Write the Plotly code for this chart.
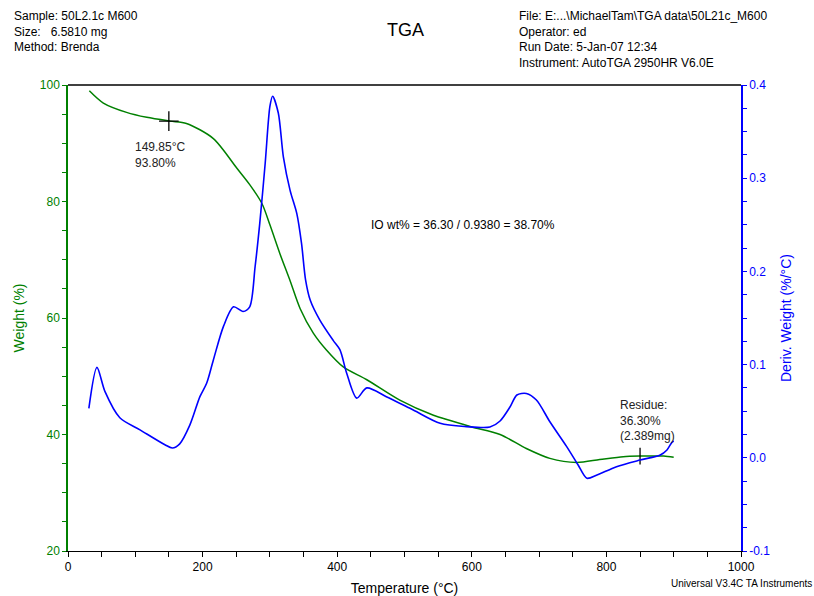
import plotly.graph_objects as go

# Weight curve (left axis)
w_temp = [31.7, 52.5, 87, 117, 151.6, 176, 216, 251, 270, 288, 300, 315, 330, 345, 364.5, 384, 409, 444, 493, 543, 568,
          600, 642, 681, 716, 756, 790, 825, 850, 885, 900]
w_val = [99.0, 96.9, 95.3, 94.45, 93.8, 93.4, 90.8, 85.7, 82.9, 79.7, 76.0, 71.0, 66.4, 61.6, 57.4, 54.5, 51.6, 49.4, 45.9, 43.3, 42.4,
         41.3, 40.0, 37.6, 35.9, 35.2, 35.7, 36.2, 36.3, 36.3, 36.1]

# Derivative weight curve (right axis)
d_temp = [31, 43, 55, 77, 107, 144, 155, 166, 181, 196, 206, 216, 231, 246, 260, 270, 278, 285, 293, 300, 304,
          312.5, 320, 330, 340, 347, 353, 360, 374, 394, 404, 414, 429, 444, 473, 513, 553, 592, 627, 642,
          657, 667, 681, 696, 716, 741, 758, 771, 786, 815, 850, 880, 890, 897, 900]
d_val = [0.053, 0.097, 0.071, 0.043, 0.030, 0.014, 0.0105, 0.015, 0.035, 0.0656, 0.080, 0.105, 0.141, 0.162, 0.157, 0.162,
         0.205, 0.252, 0.316, 0.377, 0.388, 0.370, 0.323, 0.287, 0.262, 0.230, 0.191, 0.169, 0.148, 0.126, 0.116, 0.091,
         0.064, 0.075, 0.0656, 0.0513, 0.037, 0.0335, 0.0330, 0.0395, 0.0548, 0.0674, 0.069, 0.062, 0.0387, 0.012,
         -0.0077, -0.022, -0.0185, -0.0095, -0.0024, 0.003, 0.0084, 0.0162, 0.018]

onset_point = (149.85, 93.80)
residue_point = (850, 36.30)

x_major = [0, 200, 400, 600, 800, 1000]
y_major = [20, 40, 60, 80, 100]
y2_major = [-0.1, 0.0, 0.1, 0.2, 0.3, 0.4]

FONT = "Liberation Sans, Arial, sans-serif"
GREEN = "#008000"
BLUE = "#0000FF"


def ticks_with_minor(start, stop, step, majors, fmt):
    vals, texts = [], []
    n = int(round((stop - start) / step))
    for i in range(n + 1):
        v = round(start + i * step, 4)
        vals.append(v)
        texts.append(fmt(v) if any(abs(v - m) < 1e-9 for m in majors) else "")
    return vals, texts


xv, xt = ticks_with_minor(0, 1000, 50, x_major, lambda v: f"{v:g}")
yv, yt = ticks_with_minor(20, 100, 5, y_major, lambda v: f"{v:g}")
y2v, y2t = ticks_with_minor(-0.1, 0.4, 0.025, y2_major, lambda v: f"{v:.1f}")

fig = go.Figure()
fig.add_trace(go.Scatter(x=w_temp, y=w_val, mode="lines", line=dict(color=GREEN, width=1.5, shape="spline", smoothing=0.8),
                         showlegend=False, yaxis="y"))
fig.add_trace(go.Scatter(x=d_temp, y=d_val, mode="lines", line=dict(color=BLUE, width=1.6, shape="spline", smoothing=0.8),
                         showlegend=False, yaxis="y2"))
fig.add_trace(go.Scatter(x=[onset_point[0]], y=[onset_point[1]], mode="markers",
                         marker=dict(symbol="cross-thin", size=14, line=dict(color="black", width=1.3)),
                         showlegend=False, yaxis="y"))
fig.add_trace(go.Scatter(x=[residue_point[0]], y=[residue_point[1]], mode="markers",
                         marker=dict(symbol="line-ns", size=12, line=dict(color="black", width=1.3)),
                         showlegend=False, yaxis="y"))

annotations = [
    dict(x=96, y=90.9, xref="x", yref="y", text="149.85°C<br>93.80%", showarrow=False, xanchor="left", yanchor="top",
         align="left", font=dict(size=12, color="#222")),
    dict(x=447, y=76, xref="x", yref="y", text="IO wt% = 36.30 / 0.9380 = 38.70%", showarrow=False, xanchor="left",
         yanchor="middle", font=dict(size=12, color="black")),
    dict(x=817, y=46.6, xref="x", yref="y", text="Residue:<br>36.30%<br>(2.389mg)", showarrow=False, xanchor="left",
         yanchor="top", align="left", font=dict(size=12, color="#222")),
    dict(x=-0.083, y=1.168, xref="paper", yref="paper", text="Sample: 50L2.1c M600<br>Size:   6.5810 mg<br>Method: Brenda",
         showarrow=False, xanchor="left", yanchor="top", align="left", font=dict(size=12, color="black")),
    dict(x=0.667, y=1.168, xref="paper", yref="paper",
         text="File: E:...\\MichaelTam\\TGA data\\50L21c_M600<br>Operator: ed<br>Run Date: 5-Jan-07 12:34<br>Instrument: AutoTGA 2950HR V6.0E",
         showarrow=False, xanchor="left", yanchor="top", align="left", font=dict(size=12, color="black")),
    dict(x=0.501, y=1.117, xref="paper", yref="paper", text="TGA", showarrow=False, xanchor="center", yanchor="middle",
         font=dict(size=18, color="black")),
    dict(x=1.109, y=-0.069, xref="paper", yref="paper", text="Universal V3.4C TA Instruments", showarrow=False,
         xanchor="right", yanchor="middle", font=dict(size=10, color="black")),
]

fig.update_layout(
    width=814, height=596,
    margin=dict(l=68, r=73, t=85, b=45, autoexpand=False),
    paper_bgcolor="white", plot_bgcolor="white",
    font=dict(family=FONT, size=12, color="black"),
    showlegend=False,
    annotations=annotations,
    xaxis=dict(range=[0, 1000], tickmode="array", tickvals=xv, ticktext=xt, ticks="outside", ticklen=5,
               tickcolor="black", automargin=False,
               showline=True, linecolor="black", linewidth=1, showgrid=False, zeroline=False,
               title=dict(text="Temperature (°C)", font=dict(size=14), standoff=12),
               tickfont=dict(size=12, color="black")),
    yaxis=dict(range=[20, 100], tickmode="array", tickvals=yv, ticktext=yt, ticks="outside", ticklen=4,
               tickcolor=GREEN, automargin=False,
               showline=True, linecolor=GREEN, linewidth=1.5, showgrid=False, zeroline=False,
               title=dict(text="Weight (%)", font=dict(size=14, color=GREEN), standoff=12),
               tickfont=dict(size=12, color=GREEN)),
    yaxis2=dict(range=[-0.1, 0.4], overlaying="y", side="right", tickmode="array", tickvals=y2v, ticktext=y2t,
                ticks="outside", ticklen=4, tickcolor=BLUE, automargin=False,
                showline=True, linecolor=BLUE, linewidth=1.5, showgrid=False, zeroline=False,
                title=dict(text="Deriv. Weight (%/°C)", font=dict(size=14, color=BLUE), standoff=12),
                tickfont=dict(size=12, color=BLUE)),
    shapes=[dict(type="line", xref="paper", yref="paper", x0=0, x1=1, y0=1, y1=1, line=dict(color="black", width=1.5))],
)

fig.write_html("out.html")
